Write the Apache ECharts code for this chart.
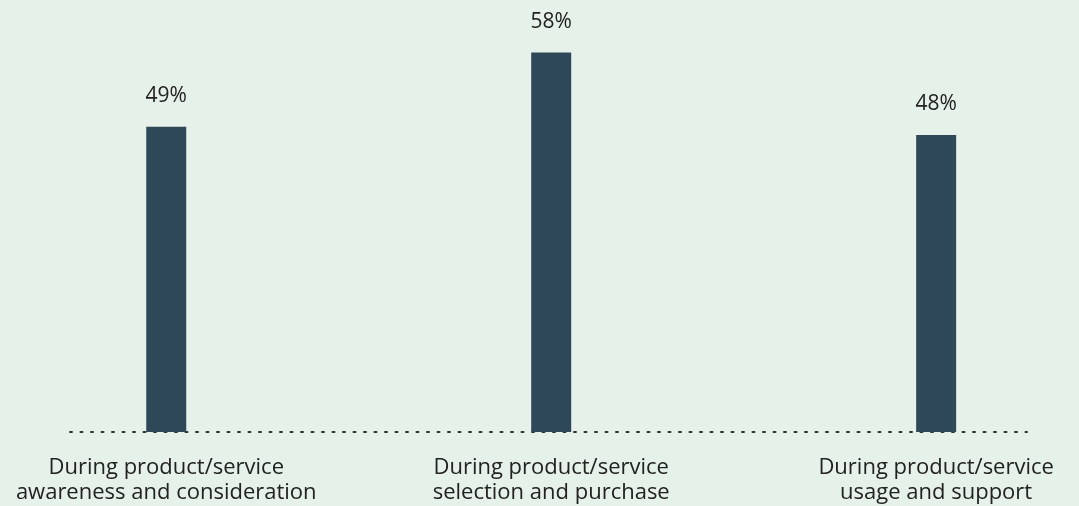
<!DOCTYPE html>
<html>
<head>
<meta charset="utf-8">
<script src="https://cdn.jsdelivr.net/npm/echarts@6/dist/echarts.min.js"></script>
<style>
  html, body { margin: 0; padding: 0; background: #e6f1e9; }
  #chart { width: 1079px; height: 506px; }
</style>
</head>
<body>
<div id="chart"></div>
<script>
var categories = [
    'During product/service\nawareness and consideration',
    'During product/service\nselection and purchase',
    'During product/service\nusage and support'
];
var positions = [0, 1, 2];
var values = [49, 58, 48];

var chart = echarts.init(document.getElementById('chart'));
var option = {
    backgroundColor: '#e6f1e9',
    animation: false,
    textStyle: { fontFamily: 'Open Sans' },
    grid: { left: 70, right: 52, top: 36, bottom: 74 },
    xAxis: {
        type: 'value',
        min: -0.25,
        max: 2.236,
        splitLine: { show: false },
        axisTick: { show: false },
        axisLine: {
            show: true,
            onZero: false,
            lineStyle: { color: '#333', width: 2, type: [2, 8.5] }
        },
        axisLabel: {
            customValues: positions,
            formatter: function (v) { return categories[Math.round(v)]; },
            color: '#222',
            fontSize: 22,
            lineHeight: 25,
            margin: 23,
            align: 'center'
        }
    },
    yAxis: {
        type: 'value',
        min: 12,
        max: 60,
        show: false
    },
    series: [{
        type: 'bar',
        barWidth: 40,
        itemStyle: { color: '#2f4858' },
        label: {
            show: true,
            position: 'top',
            distance: 20,
            formatter: '{@[1]}%',
            color: '#222',
            fontSize: 21
        },
        data: positions.map(function (p, i) { return [p, values[i]]; })
    }]
};
chart.setOption(option);
window.addEventListener('resize', function () { chart.resize(); });
</script>
</body>
</html>
